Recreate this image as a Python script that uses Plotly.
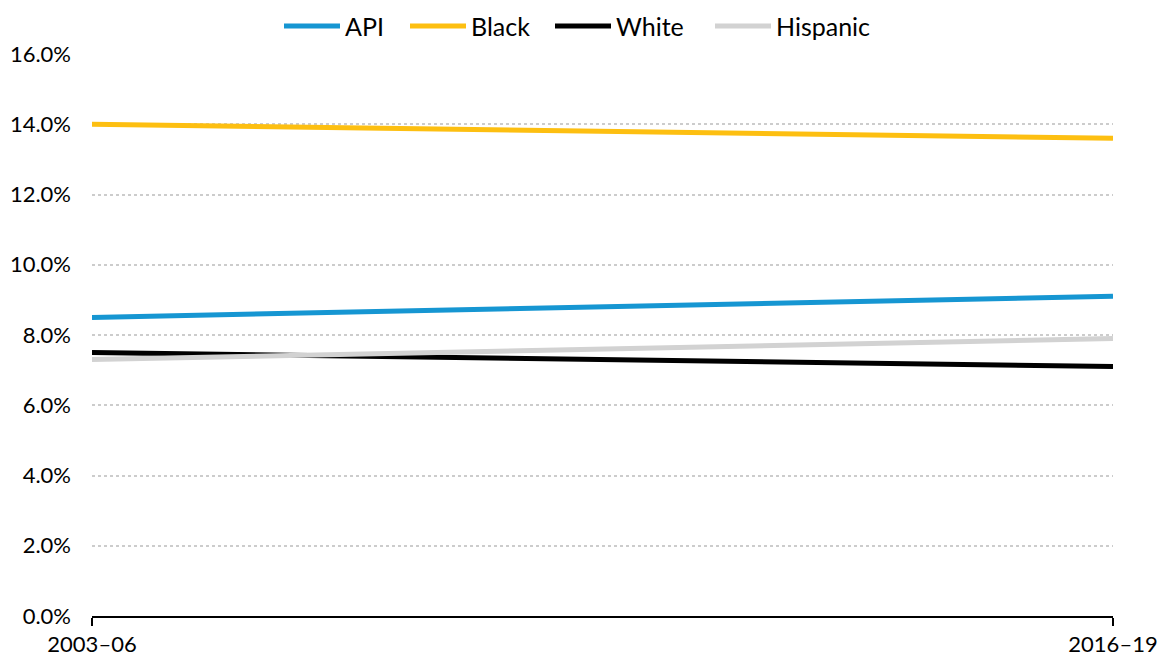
import plotly.graph_objects as go

periods = ["2003–06", "2016–19"]
api = [8.5, 9.1]
black = [14.0, 13.6]
white = [7.5, 7.1]
hispanic = [7.3, 7.9]

series = [
    ("API", api, "#1696d2"),
    ("Black", black, "#fdbf11"),
    ("White", white, "#000000"),
    ("Hispanic", hispanic, "#d2d2d2"),
]

# Plot area in pixels (fixed margins)
W, H = 1157, 656
ML, MR, MT, MB = 92, 44, 54, 40
PW, PH = W - ML - MR, H - MT - MB


def px_x(px):
    return (px - ML) / PW


def px_y(py):
    return (H - MB - py) / PH


# Legend key layout: (line start, line end, text start) in pixels, row centre
legend_keys = [(284, 340, 343), (410, 466, 469), (555, 611, 614), (715, 771, 774)]
legend_row = 26

fig = go.Figure()
for name, vals, color in series:
    fig.add_trace(go.Scatter(
        x=[0, 1], y=vals, name=name, mode="lines",
        line=dict(color=color, width=5), showlegend=False,
    ))

for (name, _, color), (x0, x1, xt) in zip(series, legend_keys):
    fig.add_shape(type="line", xref="paper", yref="paper",
                  x0=px_x(x0), x1=px_x(x1), y0=px_y(legend_row), y1=px_y(legend_row),
                  line=dict(color=color, width=5))
    fig.add_annotation(text=name, xref="paper", yref="paper",
                       x=px_x(xt), y=px_y(legend_row), xanchor="left", yanchor="middle",
                       showarrow=False, font=dict(size=25, color="#000000"))

fig.update_layout(
    width=W, height=H,
    margin=dict(l=ML, r=MR, t=MT, b=MB, autoexpand=False),
    paper_bgcolor="white", plot_bgcolor="white",
    font=dict(family="Lato", size=22, color="#000000"),
    showlegend=False,
)

fig.update_xaxes(
    range=[0, 1], tickvals=[0, 1], ticktext=periods,
    showgrid=False, zeroline=False, automargin=False,
    showline=True, linecolor="#000000", linewidth=2,
    ticks="outside", ticklen=8, tickwidth=2, tickcolor="#000000",
    tickfont=dict(size=22), ticklabeloverflow="allow",
)
fig.update_yaxes(
    range=[0, 16], dtick=2, tickformat=".1f", ticksuffix="%",
    showgrid=True, gridcolor="#cccccc", gridwidth=2, griddash="dot",
    zeroline=False, showline=False, ticks="", ticklabelstandoff=20,
    automargin=False,
)

fig.write_html("out.html")
